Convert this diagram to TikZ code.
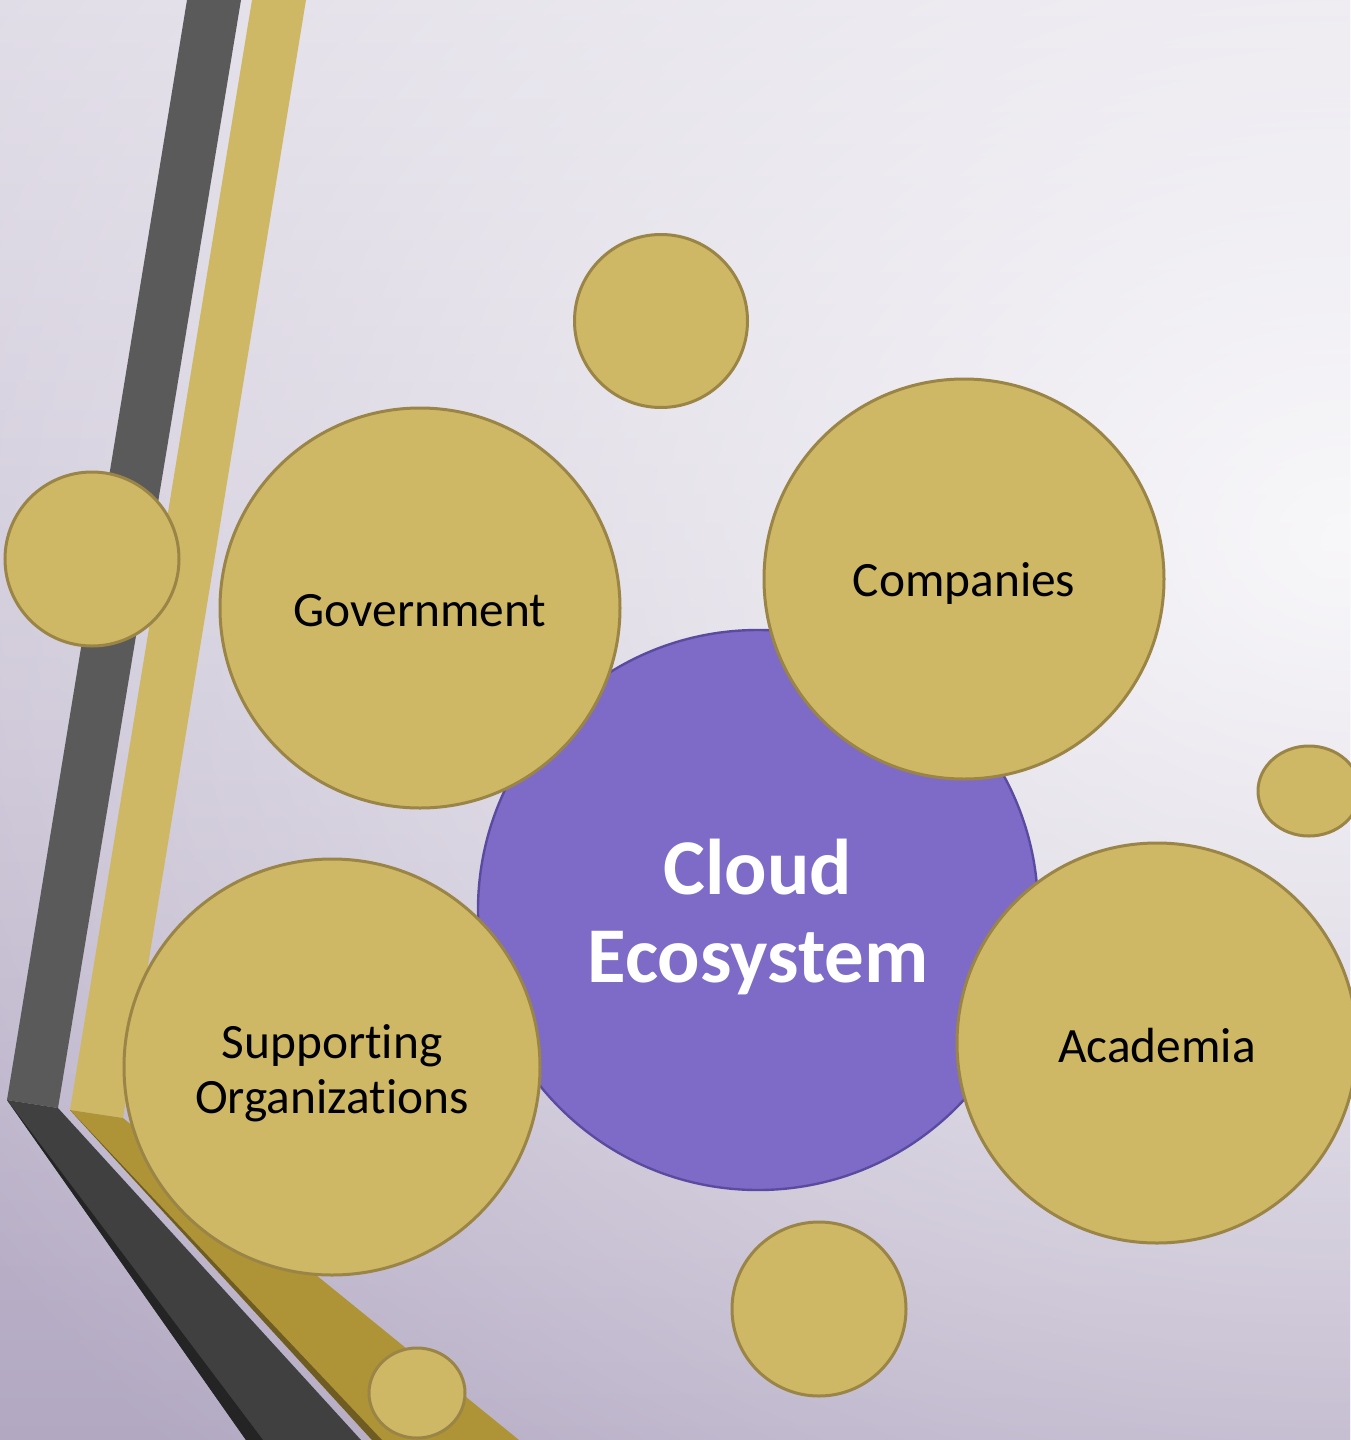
\documentclass[tikz,border=0pt]{standalone}
\usepackage{fontspec}
\setmainfont{Carlito}[Ligatures=NoCommon]
\usetikzlibrary{fadings,shapes.geometric}
\tikzfading[name=glowfade, inner color=transparent!0, outer color=transparent!100]
\definecolor{bgtop}{HTML}{DFDBE6}
\definecolor{bgmid}{HTML}{D6D0DF}
\definecolor{bgbot}{HTML}{B2A8C2}
\definecolor{dkface}{HTML}{5A5A5A}
\definecolor{dkdiag}{HTML}{404040}
\definecolor{dkshadow}{HTML}{242424}
\definecolor{gdface}{HTML}{CEB866}
\definecolor{gddiag}{HTML}{AE9437}
\definecolor{gdshadow}{HTML}{6E5C22}
\definecolor{gdborder}{HTML}{9A8546}
\definecolor{purp}{HTML}{7E6BC7}
\definecolor{purpborder}{HTML}{5B4BA0}
\begin{document}
\begin{tikzpicture}[x=0.5pt,y=-0.5pt,
  bubble/.style={circle, fill=gdface, draw=gdborder, line width=1.5pt, inner sep=0pt},
  smallbubble/.style={ellipse, fill=gdface, draw=gdborder, line width=1.5pt, inner sep=0pt},
  core/.style={circle, fill=purp, draw=purpborder, line width=1.2pt, inner sep=0pt},
  bubbletext/.style={inner sep=0pt, align=center, text=black, font=\fontsize{24.7}{27.5}\selectfont},
  coretext/.style={inner sep=0pt, align=center, text=white, font=\bfseries\fontsize{39.5}{44}\selectfont}
]
\useasboundingbox (0,0) rectangle (1350,1440);
% background
\shade[top color=bgtop, middle color=bgmid, bottom color=bgbot] (0,0) rectangle (1350,1440);
\begin{scope}
\clip (0,0) rectangle (1350,1440);
\fill[white, opacity=0.85, path fading=glowfade] (1350,540) ellipse [x radius=1650, y radius=1300];
\end{scope}
% dark stripe
\fill[dkface] (187,0) -- (241,0) -- (58,1108) -- (7,1100) -- cycle;
\fill[dkdiag] (7,1100) -- (58,1108) -- (361,1440) -- (246,1440) -- cycle;
\fill[dkshadow] (7,1100) -- (263,1440) -- (246,1440) -- cycle;
% gold stripe
\fill[gdface] (252,0) -- (306,0) -- (123,1118) -- (70,1110) -- cycle;
\fill[gddiag] (70,1110) -- (123,1118) -- (519,1440) -- (372,1440) -- cycle;
\fill[gdshadow] (70,1110) -- (382,1440) -- (372,1440) -- cycle;
% small bubbles
\node[smallbubble, minimum width=86.5pt, minimum height=86.5pt] (stop) at (661,321) {};
\node[smallbubble, minimum width=87pt, minimum height=87pt] (sleft) at (92,559) {};
\node[smallbubble, minimum width=87pt, minimum height=87pt] (sbottom) at (819,1309) {};
\node[smallbubble, minimum width=51pt, minimum height=45pt] (sright) at (1309,791) {};
\node[smallbubble, minimum width=48pt, minimum height=45pt] (sbl) at (417,1393) {};
% core
\node[core, minimum size=280pt] (cloud) at (758,910) {};
\node[coretext] (cloudtxt) at ([yshift=-3.3pt]cloud.center) {Cloud\\Ecosystem};
% main bubbles
\node[bubble, minimum size=200pt] (gov) at (420,608) {};
\node[bubble, minimum size=200pt] (comp) at (964,579) {};
\node[bubble, minimum size=200pt] (acad) at (1157,1043) {};
\node[bubble, minimum size=208pt] (supp) at (332,1067) {};
\node[bubbletext] (govtxt) at ([yshift=-1.2pt]gov.center) {Government};
\node[bubbletext] (comptxt) at ([yshift=-2pt]comp.center) {Companies};
\node[bubbletext] (acadtxt) at ([yshift=-1.2pt]acad.center) {Academia};
\node[bubbletext] (supptxt) at ([yshift=-3pt]supp.center) {Supporting\\Organizations};
\end{tikzpicture}
\end{document}
